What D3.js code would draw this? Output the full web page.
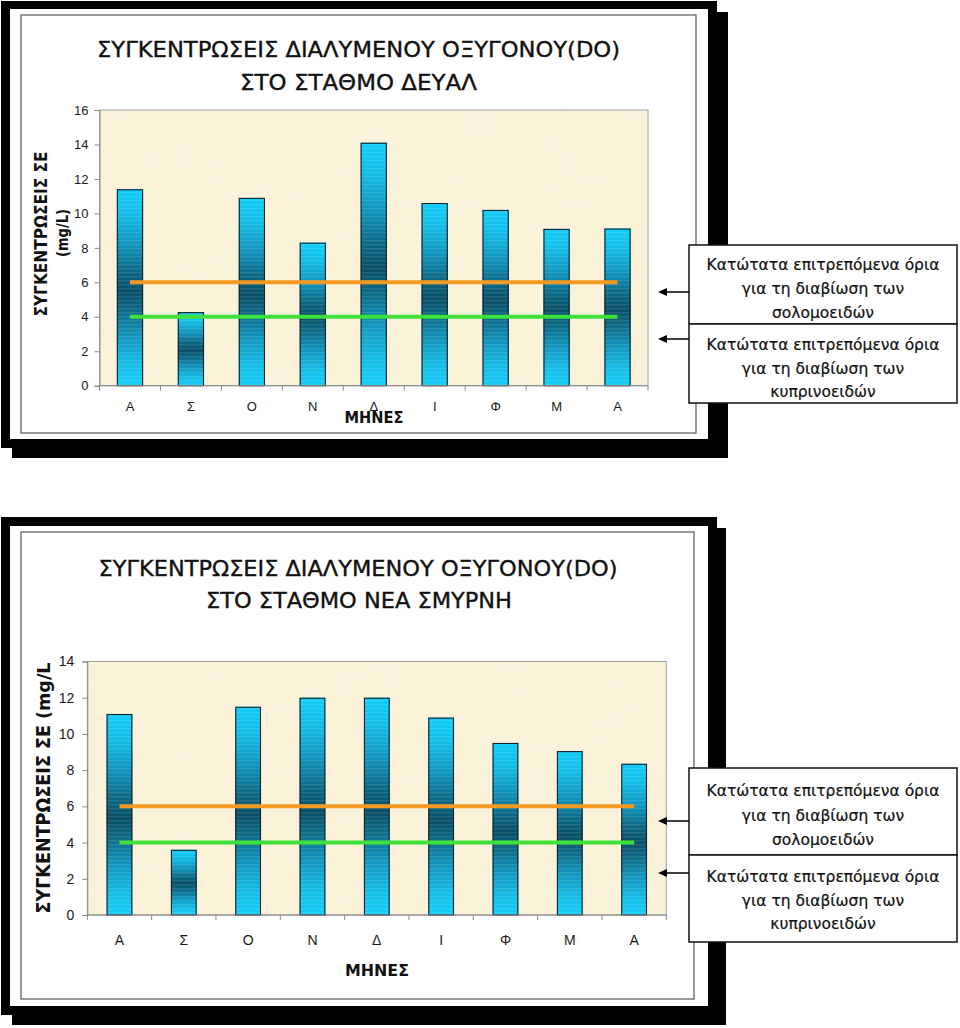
<!DOCTYPE html>
<html>
<head>
<meta charset="utf-8">
<script src="https://cdn.jsdelivr.net/npm/d3@7"></script>
<style>
  html, body { margin: 0; padding: 0; background: #ffffff; }
  svg { display: block; }
</style>
</head>
<body>
<svg id="chart" width="960" height="1028"></svg>
<script>
// ---------------- DATA ----------------
const months = ["Α", "Σ", "Ο", "Ν", "Δ", "Ι", "Φ", "Μ", "Α"];
const deyalValues  = [11.4, 4.27, 10.9, 8.3, 14.1, 10.6, 10.2, 9.1, 9.12];
const smyrniValues = [11.1, 3.6, 11.5, 12.0, 12.0, 10.9, 9.5, 9.05, 8.35];
const salmonidLimit = 6;   // orange line
const cyprinidLimit = 4;   // green line
const deyalTicks  = [0, 2, 4, 6, 8, 10, 12, 14, 16];
const smyrniTicks = [0, 2, 4, 6, 8, 10, 12, 14];
const deyalTitle  = ["ΣΥΓΚΕΝΤΡΩΣΕΙΣ ΔΙΑΛΥΜΕΝΟΥ ΟΞΥΓΟΝΟΥ(DO)", "ΣΤΟ ΣΤΑΘΜΟ ΔΕΥΑΛ"];
const smyrniTitle = ["ΣΥΓΚΕΝΤΡΩΣΕΙΣ ΔΙΑΛΥΜΕΝΟΥ ΟΞΥΓΟΝΟΥ(DO)", "ΣΤΟ ΣΤΑΘΜΟ ΝΕΑ ΣΜΥΡΝΗ"];
const deyalYTitle  = ["ΣΥΓΚΕΝΤΡΩΣΕΙΣ ΣΕ", "(mg/L)"];
const smyrniYTitle = ["ΣΥΓΚΕΝΤΡΩΣΕΙΣ ΣΕ (mg/L"];
const xTitle = "ΜΗΝΕΣ";
const salmonidNote = ["Κατώτατα επιτρεπόμενα όρια", "για τη διαβίωση των", "σολομοειδών"];
const cyprinidNote = ["Κατώτατα επιτρεπόμενα όρια", "για τη διαβίωση των", "κυπρινοειδών"];

// ---------------- STYLE ----------------
const TITLE_FONT = "'DejaVu Sans', 'Noto Sans', sans-serif";
const AXIS_FONT = "'Liberation Sans', Arial, sans-serif";
const ORANGE = "#F39A22";
const GREEN = "#3EE03A";
const PLOT_BG = "#FBF2DA";

const svg = d3.select("#chart");
const defs = svg.append("defs");

// bar gradient: light cyan top/bottom, dark teal in the middle
const grad = defs.append("linearGradient").attr("id", "barGrad")
  .attr("x1", 0).attr("y1", 0).attr("x2", 0).attr("y2", 1);
[
  [0.00, "#12CDF8"], [0.12, "#14BEE8"], [0.28, "#1195BD"], [0.42, "#0C6783"],
  [0.52, "#0A4F67"], [0.62, "#0D6B88"], [0.76, "#1399C1"], [0.90, "#17BFE8"],
  [1.00, "#16CCF7"]
].forEach(([o, c]) => grad.append("stop").attr("offset", o).attr("stop-color", c));

// subtle horizontal banding
const stripe = defs.append("pattern").attr("id", "stripes")
  .attr("patternUnits", "userSpaceOnUse").attr("width", 4).attr("height", 4);
stripe.append("rect").attr("width", 4).attr("height", 1.3).attr("fill", "#ffffff").attr("opacity", 0.10);

// mottled plot background
const tex = defs.append("filter").attr("id", "paper").attr("x", 0).attr("y", 0).attr("width", 1).attr("height", 1);
tex.append("feTurbulence").attr("type", "fractalNoise").attr("baseFrequency", 0.02).attr("numOctaves", 3).attr("seed", 4).attr("result", "noise");
tex.append("feColorMatrix").attr("in", "noise").attr("type", "matrix")
  .attr("values", "0 0 0 0 0.95  0 0 0 0 0.88  0 0 0 0 0.72  0 0 0 0.25 -0.04").attr("result", "tint");
tex.append("feComposite").attr("in", "tint").attr("in2", "SourceGraphic").attr("operator", "in");

function drawChart(cfg) {
  const g = svg.append("g");
  // frame: shadow, black frame, white inner, chart area border
  g.append("rect").attr("x", cfg.shadow[0]).attr("y", cfg.shadow[1])
    .attr("width", cfg.shadow[2]).attr("height", cfg.shadow[3]).attr("fill", "#000");
  g.append("rect").attr("x", cfg.front[0]).attr("y", cfg.front[1])
    .attr("width", cfg.front[2]).attr("height", cfg.front[3]).attr("fill", "#000");
  g.append("rect").attr("x", cfg.inner[0]).attr("y", cfg.inner[1])
    .attr("width", cfg.inner[2]).attr("height", cfg.inner[3]).attr("fill", "#fff");
  g.append("rect").attr("x", cfg.area[0]).attr("y", cfg.area[1])
    .attr("width", cfg.area[2]).attr("height", cfg.area[3])
    .attr("fill", "#fff").attr("stroke", "#555").attr("stroke-width", 1.2);

  const p = cfg.plot;
  const x = d3.scaleBand().domain(d3.range(months.length)).range([p.x, p.x + p.w])
    .paddingInner(cfg.pad).paddingOuter(cfg.pad / 2);
  const y = d3.scaleLinear().domain([0, cfg.ticks[cfg.ticks.length - 1]]).range([p.y + p.h, p.y]);

  // plot background
  g.append("rect").attr("x", p.x).attr("y", p.y).attr("width", p.w).attr("height", p.h)
    .attr("fill", PLOT_BG);
  g.append("rect").attr("x", p.x).attr("y", p.y).attr("width", p.w).attr("height", p.h)
    .attr("fill", "#fff").attr("filter", "url(#paper)");
  g.append("rect").attr("x", p.x).attr("y", p.y).attr("width", p.w).attr("height", p.h)
    .attr("fill", "none").attr("stroke", "#a0a0a0").attr("stroke-width", 1);

  // bars
  const bars = g.append("g");
  bars.selectAll("rect.bar").data(cfg.values).join("rect").attr("class", "bar")
    .attr("x", (d, i) => x(i)).attr("width", x.bandwidth())
    .attr("y", d => y(d)).attr("height", d => y(0) - y(d))
    .attr("fill", "url(#barGrad)");
  bars.selectAll("rect.stripe").data(cfg.values).join("rect").attr("class", "stripe")
    .attr("x", (d, i) => x(i)).attr("width", x.bandwidth())
    .attr("y", d => y(d)).attr("height", d => y(0) - y(d))
    .attr("fill", "url(#stripes)");
  bars.selectAll("rect.outline").data(cfg.values).join("rect").attr("class", "outline")
    .attr("x", (d, i) => x(i) + 0.5).attr("width", x.bandwidth() - 1)
    .attr("y", d => y(d) + 0.5).attr("height", d => y(0) - y(d) - 0.5)
    .attr("fill", "none").attr("stroke", "#10232b").attr("stroke-width", 1.1);

  // limit lines across band centres
  const cx0 = x(0) + x.bandwidth() / 2;
  const cx1 = x(months.length - 1) + x.bandwidth() / 2;
  [[salmonidLimit, ORANGE], [cyprinidLimit, GREEN]].forEach(([v, c]) => {
    g.append("line").attr("x1", cx0).attr("x2", cx1).attr("y1", y(v)).attr("y2", y(v))
      .attr("stroke", c).attr("stroke-width", 4);
  });

  // y axis
  const yAxis = g.append("g").attr("transform", `translate(${p.x},0)`)
    .call(d3.axisLeft(y).tickValues(cfg.ticks).tickSize(5).tickPadding(cfg.yPad).tickFormat(d3.format("d")));
  yAxis.select(".domain").attr("stroke", "#888");
  yAxis.selectAll(".tick line").attr("stroke", "#888");
  yAxis.selectAll("text").attr("font-family", AXIS_FONT).attr("font-size", cfg.tickFont).attr("fill", "#1a1a1a");

  // x axis: baseline, ticks at band boundaries, labels at band centres
  const xAxisG = g.append("g");
  xAxisG.append("line").attr("x1", p.x).attr("x2", p.x + p.w).attr("y1", y(0)).attr("y2", y(0))
    .attr("stroke", "#888");
  const bounds = d3.range(months.length + 1).map(i => p.x + i * x.step());
  xAxisG.selectAll("line.tk").data(bounds).join("line").attr("class", "tk")
    .attr("x1", d => d).attr("x2", d => d).attr("y1", y(0)).attr("y2", y(0) + 5)
    .attr("stroke", "#888");
  xAxisG.selectAll("text").data(months).join("text")
    .attr("x", (d, i) => x(i) + x.bandwidth() / 2).attr("y", cfg.xLabelY)
    .attr("text-anchor", "middle").attr("font-family", AXIS_FONT).attr("font-size", cfg.tickFont)
    .attr("fill", "#1a1a1a").text(d => d);

  // x title
  g.append("text").attr("x", cfg.xTitle[0]).attr("y", cfg.xTitle[1]).attr("text-anchor", "middle")
    .attr("font-family", TITLE_FONT).attr("font-size", 15).attr("font-weight", "bold")
    .attr("textLength", cfg.xTitle[2]).attr("lengthAdjust", "spacingAndGlyphs")
    .attr("fill", "#111").text(xTitle);

  // y title (rotated)
  cfg.yTitle.forEach((t, i) => {
    const yt = cfg.yTitlePos[i];
    g.append("text").attr("transform", `translate(${yt[0]},${yt[1]}) rotate(-90)`)
      .attr("text-anchor", "middle").attr("font-family", TITLE_FONT).attr("font-weight", "bold")
      .attr("font-size", yt[2]).attr("textLength", yt[3]).attr("lengthAdjust", "spacingAndGlyphs")
      .attr("fill", "#111").text(t);
  });

  // chart title
  cfg.title.forEach((t, i) => {
    const tp = cfg.titlePos[i];
    g.append("text").attr("x", tp[0]).attr("y", tp[1]).attr("text-anchor", "middle")
      .attr("font-family", TITLE_FONT).attr("font-size", 21)
      .attr("textLength", tp[2]).attr("lengthAdjust", "spacingAndGlyphs")
      .attr("fill", "#111").attr("stroke", "#111").attr("stroke-width", 0.35).text(t);
  });

  // notes with arrows
  cfg.notes.forEach(n => {
    g.append("rect").attr("x", n.box[0]).attr("y", n.box[1]).attr("width", n.box[2]).attr("height", n.box[3])
      .attr("fill", "#fff").attr("stroke", "#111").attr("stroke-width", 1.5);
    n.lines.forEach((t, i) => {
      g.append("text").attr("x", n.box[0] + n.box[2] / 2).attr("y", n.baseY + i * n.lh)
        .attr("text-anchor", "middle").attr("font-family", TITLE_FONT).attr("font-size", 15.5)
        .attr("fill", "#111").attr("stroke", "#111").attr("stroke-width", 0.2).text(t);
    });
    const ay = n.arrowY, ax0 = n.box[0], ax1 = n.arrowTip;
    g.append("line").attr("x1", ax0).attr("x2", ax1 + 7).attr("y1", ay).attr("y2", ay)
      .attr("stroke", "#000").attr("stroke-width", 1.5);
    g.append("path").attr("d", `M${ax1},${ay} L${ax1 + 9},${ay - 4} L${ax1 + 9},${ay + 4} Z`)
      .attr("fill", "#000");
  });
}

drawChart({
  values: deyalValues, ticks: deyalTicks, title: deyalTitle, yTitle: deyalYTitle,
  shadow: [12, 12, 716, 446], front: [1, 1, 716, 447], inner: [10, 9, 698, 430], area: [21, 15, 675, 418],
  plot: { x: 99.5, y: 110, w: 548.5, h: 275.7 }, pad: 0.57, yPad: 6, tickFont: 13,
  xLabelY: 411, xTitle: [374, 423, 59],
  yTitlePos: [[47, 234, 17, 165], [68, 233, 16, 48]],
  titlePos: [[358.5, 57, 523], [358.5, 90, 237]],
  notes: [
    { box: [689, 245, 268, 79], baseY: 270, lh: 24, lines: salmonidNote, arrowY: 292, arrowTip: 658 },
    { box: [689, 324, 268, 79], baseY: 350, lh: 23.5, lines: cyprinidNote, arrowY: 339, arrowTip: 658 }
  ]
});

drawChart({
  values: smyrniValues, ticks: smyrniTicks, title: smyrniTitle, yTitle: smyrniYTitle,
  shadow: [12, 528, 714, 497], front: [1, 517, 716, 498], inner: [10, 526, 698, 480], area: [21, 532, 673, 467],
  plot: { x: 87.3, y: 661.5, w: 579, h: 253.5 }, pad: 0.6, yPad: 8, tickFont: 14,
  xLabelY: 945, xTitle: [377, 976, 64],
  yTitlePos: [[50, 788, 18.5, 251]],
  titlePos: [[358, 576, 519], [359, 608, 306]],
  notes: [
    { box: [689, 768, 268, 87], baseY: 796, lh: 24.5, lines: salmonidNote, arrowY: 821, arrowTip: 658 },
    { box: [689, 855, 268, 87], baseY: 882, lh: 23.5, lines: cyprinidNote, arrowY: 873, arrowTip: 658 }
  ]
});
</script>
</body>
</html>
